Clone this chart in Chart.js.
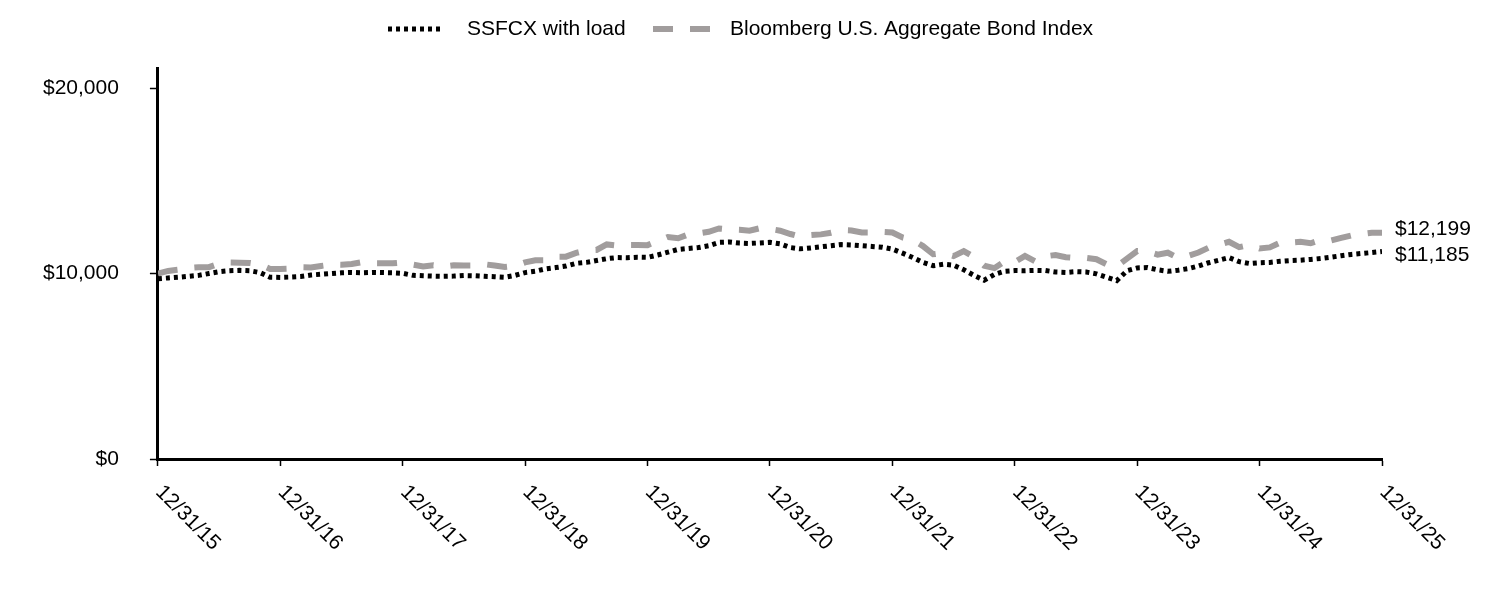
<!DOCTYPE html>
<html>
<head>
<meta charset="utf-8">
<title>SSFCX growth of $10,000</title>
<script src="https://cdn.jsdelivr.net/npm/chart.js@4.4.0/dist/chart.umd.min.js"></script>
<style>
  html, body { margin: 0; padding: 0; background: #fff; }
  #wrap { width: 1500px; height: 600px; }
</style>
</head>
<body>
<div id="wrap"><canvas id="chart" width="1500" height="600"></canvas></div>
<script>
// DATA (monthly, 12/31/15 .. 12/31/25)
const yearLabels = ['12/31/15', '12/31/16', '12/31/17', '12/31/18', '12/31/19', '12/31/20',
  '12/31/21', '12/31/22', '12/31/23', '12/31/24', '12/31/25'];

const yTicks = [0, 10000, 20000];

const seriesNames = ['SSFCX with load', 'Bloomberg U.S. Aggregate Bond Index'];

const ssfcx = [
  9720, 9760, 9800, 9850, 9900, 10000, 10100, 10150, 10170, 10150, 10050, 9800, 9790,
  9810, 9840, 9920, 9960, 10000, 10040, 10060, 10040, 10060, 10050, 10040, 10010,
  9900, 9880, 9860, 9850, 9860, 9890, 9880, 9850, 9830, 9800, 9900, 10050,
  10120, 10250, 10320, 10400, 10550, 10600, 10700, 10800, 10860, 10850, 10880, 10870,
  11000, 11150, 11300, 11350, 11400, 11500, 11680, 11700, 11640, 11620, 11650, 11680,
  11600, 11400, 11330, 11380, 11440, 11500, 11560, 11540, 11500, 11460, 11420, 11320,
  11100, 10860, 10600, 10420, 10500, 10450, 10200, 9900, 9640, 9950, 10120, 10160,
  10150, 10170, 10160, 10080, 10060, 10100, 10080, 9980, 9800, 9620, 10150, 10300,
  10320, 10200, 10120, 10180, 10260, 10400, 10580, 10720, 10860, 10640, 10540, 10580,
  10600, 10660, 10700, 10720, 10760, 10810, 10880, 10960, 11030, 11080, 11130, 11185
];

const aggIndex = [
  10000, 10140, 10210, 10300, 10340, 10340, 10530, 10590, 10580, 10570, 10490, 10240, 10250,
  10270, 10340, 10330, 10410, 10480, 10470, 10510, 10610, 10560, 10560, 10550, 10600,
  10480, 10380, 10450, 10370, 10440, 10430, 10430, 10500, 10430, 10350, 10410, 10600,
  10710, 10710, 10910, 10910, 11110, 11250, 11270, 11570, 11510, 11540, 11540, 11530,
  11750, 11970, 11900, 12110, 12170, 12250, 12430, 12380, 12360, 12310, 12440, 12400,
  12310, 12130, 11980, 12070, 12110, 12200, 12340, 12320, 12210, 12210, 12240, 12210,
  11940, 11810, 11480, 11040, 11110, 10940, 11210, 10890, 10420, 10290, 10660, 10620,
  10950, 10660, 10930, 11000, 10880, 10840, 10840, 10770, 10500, 10400, 10800, 11210,
  11180, 11020, 11120, 10840, 10950, 11130, 11390, 11560, 11710, 11420, 11540, 11350,
  11410, 11660, 11670, 11710, 11630, 11810, 11780, 11920, 12050, 12130, 12200, 12199
];

const FONT = '"Liberation Sans", Arial, Helvetica, sans-serif';
const BLACK = '#000000';
const GREY = '#a19d9d';
const DOTS = [4, 4];
const DASHES = [20, 17];

function money(v) {
  return '$' + v.toLocaleString('en-US');
}

function toPoints(arr) {
  return arr.map((v, i) => ({ x: i, y: v }));
}

// legend, rotated date labels and end-of-line values
const extraText = {
  id: 'extraText',
  afterDraw(chart) {
    const ctx = chart.ctx;
    const xs = chart.scales.x;
    const ys = chart.scales.y;
    const area = chart.chartArea;

    ctx.save();
    ctx.font = '21px ' + FONT;
    ctx.fillStyle = BLACK;

    // date labels under the axis
    yearLabels.forEach((lab, i) => {
      ctx.save();
      ctx.translate(xs.getPixelForValue(i * 12) + 1, area.bottom + 30);
      ctx.rotate(Math.PI / 4);
      ctx.textAlign = 'left';
      ctx.textBaseline = 'middle';
      ctx.fillText(lab, 0, 0);
      ctx.restore();
    });

    // values at the end of each line
    const last = ssfcx.length - 1;
    ctx.textAlign = 'left';
    ctx.textBaseline = 'middle';
    ctx.fillText(money(aggIndex[last]), area.right + 13, ys.getPixelForValue(aggIndex[last]) - 4);
    ctx.fillText(money(ssfcx[last]), area.right + 13, ys.getPixelForValue(ssfcx[last]) + 4);

    // legend
    const ly = 29;
    ctx.lineCap = 'butt';
    ctx.lineWidth = 5;
    ctx.strokeStyle = BLACK;
    ctx.setLineDash(DOTS);
    ctx.beginPath(); ctx.moveTo(388, ly); ctx.lineTo(441, ly); ctx.stroke();
    ctx.fillText(seriesNames[0], 467, ly);

    ctx.lineWidth = 6;
    ctx.strokeStyle = GREY;
    ctx.setLineDash(DASHES);
    ctx.beginPath(); ctx.moveTo(653, ly); ctx.lineTo(710, ly); ctx.stroke();
    ctx.fillText(seriesNames[1], 730, ly);
    ctx.restore();
  }
};

new Chart(document.getElementById('chart'), {
  type: 'line',
  data: {
    datasets: [
      {
        label: seriesNames[0],
        data: toPoints(ssfcx),
        borderColor: BLACK,
        borderWidth: 5,
        borderDash: DOTS,
        pointRadius: 0,
        tension: 0,
        fill: false
      },
      {
        label: seriesNames[1],
        data: toPoints(aggIndex),
        borderColor: GREY,
        borderWidth: 6,
        borderDash: DASHES,
        pointRadius: 0,
        tension: 0,
        fill: false
      }
    ]
  },
  options: {
    responsive: false,
    animation: false,
    devicePixelRatio: 1,
    layout: { padding: { top: 68, right: 118, bottom: 134, left: 12 } },
    plugins: {
      legend: { display: false },
      tooltip: { enabled: false }
    },
    scales: {
      x: {
        type: 'linear',
        min: 0,
        max: ssfcx.length - 1,
        ticks: { stepSize: 12, display: false },
        grid: { drawOnChartArea: false, drawTicks: true, tickLength: 7, tickColor: BLACK, tickWidth: 1.5 },
        border: { color: BLACK, width: 3 }
      },
      y: {
        min: 0,
        max: 21080,
        afterBuildTicks: (scale) => { scale.ticks = yTicks.map(v => ({ value: v })); },
        ticks: {
          color: BLACK,
          padding: 31,
          font: { family: FONT, size: 21 },
          callback: (v) => money(v)
        },
        grid: { drawOnChartArea: false, drawTicks: true, tickLength: 8, tickColor: BLACK, tickWidth: 1.5 },
        border: { color: BLACK, width: 3 }
      }
    }
  },
  plugins: [extraText]
});
</script>
</body>
</html>
